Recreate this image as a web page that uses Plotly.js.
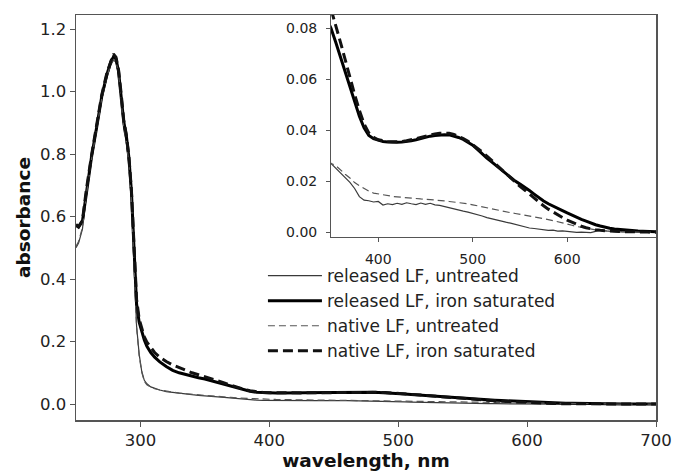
<!DOCTYPE html>
<html>
<head>
<meta charset="utf-8">
<script src="https://cdn.plot.ly/plotly-3.0.1.min.js"></script>
<style>
  html, body { margin: 0; padding: 0; background: #fff; }
  #chart { width: 673px; height: 473px; }
</style>
</head>
<body>
<div id="chart"></div>
<script>
// Wavelength grid (nm)
var wavelength = [250,252,255,258,262,266,270,274,277,279,281,283,285,287,289,291,293,295,297,299,301,303,305,308,311,315,320,325,330,335,340,345,350,
  355,360,365,370,375,380,385,390,395,400,405,410,415,420,425,430,435,440,445,450,455,460,465,470,475,480,485,490,495,500,
  505,510,515,520,525,530,535,540,545,550,555,560,565,570,575,580,585,590,595,600,605,610,615,620,625,630,635,640,645,650,
  655,660,665,670,675,680,685,690,695,700];

// released LF, untreated (thin solid)
var releasedUntreated = [0.500,0.515,0.560,0.665,0.780,0.875,0.975,1.045,1.085,1.100,1.095,1.055,0.980,0.880,0.840,0.770,0.650,0.440,0.250,0.160,0.105,0.076,0.065,0.055,0.050,0.045,0.040,0.037,0.034,0.032,0.030,0.028,0.027,
  0.0252,0.0232,0.0214,0.0196,0.0172,0.0140,0.0126,0.0124,0.0119,0.0121,0.0107,0.0112,0.0109,0.0114,0.0110,0.0116,0.0112,0.0109,0.0115,0.0110,0.0114,0.0108,0.0106,0.0101,0.0095,0.0091,0.0088,0.0083,0.0079,0.0075,
  0.0071,0.0064,0.0058,0.0053,0.0049,0.0045,0.0040,0.0036,0.0031,0.0027,0.0022,0.0017,0.0015,0.0012,0.0011,0.0008,0.0009,0.0005,0.0006,0.0003,0.0002,0.0000,0.0001,-0.0001,-0.0001,0.0004,0.0009,0.0006,0.0004,0.0003,
  0.0002,0.0003,0.0002,0.0001,0.0002,0.0001,0.0001,0.0000,0.0000,0.0000];

// released LF, iron saturated (thick solid)
var releasedIron = [0.572,0.566,0.585,0.680,0.790,0.885,0.985,1.055,1.095,1.110,1.105,1.065,0.990,0.905,0.860,0.790,0.680,0.480,0.320,0.262,0.230,0.205,0.185,0.165,0.150,0.135,0.120,0.108,0.100,0.094,0.088,0.084,0.080,
  0.0745,0.0685,0.0625,0.0565,0.0510,0.0455,0.0410,0.0380,0.0367,0.0360,0.0356,0.0354,0.0353,0.0353,0.0354,0.0356,0.0359,0.0363,0.0368,0.0373,0.0377,0.0380,0.0382,0.0383,0.0382,0.0378,0.0372,0.0364,0.0354,0.0342,
  0.0325,0.0307,0.0291,0.0276,0.0261,0.0246,0.0230,0.0215,0.0201,0.0189,0.0178,0.0164,0.0150,0.0136,0.0123,0.0112,0.0102,0.0094,0.0085,0.0076,0.0067,0.0059,0.0051,0.0044,0.0036,0.0030,0.0025,0.0020,0.0016,0.0013,
  0.0011,0.0009,0.0007,0.0006,0.0005,0.0004,0.0003,0.0002,0.0002,0.0001];

// native LF, untreated (thin dashed)
var nativeUntreated = [0.505,0.520,0.565,0.668,0.782,0.878,0.978,1.048,1.088,1.103,1.097,1.058,0.982,0.885,0.842,0.772,0.652,0.445,0.245,0.155,0.102,0.073,0.062,0.054,0.049,0.045,0.041,0.038,0.035,0.033,0.031,0.029,0.027,
  0.0262,0.0244,0.0228,0.0213,0.0195,0.0183,0.0172,0.0162,0.0154,0.0150,0.0147,0.0144,0.0141,0.0139,0.0137,0.0135,0.0134,0.0132,0.0131,0.0130,0.0129,0.0127,0.0125,0.0123,0.0121,0.0119,0.0117,0.0115,0.0112,0.0108,
  0.0104,0.0099,0.0094,0.0090,0.0087,0.0084,0.0081,0.0077,0.0074,0.0071,0.0068,0.0064,0.0061,0.0057,0.0054,0.0050,0.0046,0.0042,0.0037,0.0032,0.0028,0.0023,0.0019,0.0015,0.0012,0.0010,0.0008,0.0006,0.0005,0.0004,
  0.0003,0.0002,0.0002,0.0001,0.0001,0.0001,0.0000,0.0000,0.0000,0.0000];

// native LF, iron saturated (thick dashed)
var nativeIron = [0.575,0.568,0.588,0.685,0.795,0.890,0.990,1.060,1.100,1.120,1.110,1.070,0.995,0.910,0.862,0.795,0.685,0.490,0.335,0.272,0.240,0.215,0.198,0.180,0.165,0.150,0.136,0.125,0.116,0.107,0.100,0.094,0.088,
  0.0810,0.0745,0.0675,0.0605,0.0540,0.0478,0.0425,0.0390,0.0372,0.0363,0.0358,0.0356,0.0355,0.0355,0.0356,0.0359,0.0362,0.0367,0.0372,0.0377,0.0382,0.0386,0.0388,0.0389,0.0388,0.0384,0.0377,0.0368,0.0357,0.0344,
  0.0330,0.0315,0.0299,0.0282,0.0264,0.0246,0.0228,0.0211,0.0195,0.0180,0.0166,0.0150,0.0134,0.0118,0.0104,0.0091,0.0079,0.0068,0.0058,0.0048,0.0039,0.0031,0.0024,0.0018,0.0013,0.0010,0.0008,0.0006,0.0005,0.0004,
  0.0003,0.0003,0.0002,0.0002,0.0001,0.0001,0.0001,0.0000,0.0000,0.0000];

var seriesNames = ['released LF, untreated', 'released LF, iron saturated', 'native LF, untreated', 'native LF, iron saturated'];

var mainXTicks = [300, 400, 500, 600, 700];
var mainYTicks = [0.0, 0.2, 0.4, 0.6, 0.8, 1.0, 1.2];
var insetXTicks = [400, 500, 600];
var insetYTicks = [0.00, 0.02, 0.04, 0.06, 0.08];

var seriesData = [releasedUntreated, releasedIron, nativeUntreated, nativeIron];
var styles = [
  {color: '#3a3a3a', width: 1.2, dash: 'solid'},
  {color: '#000000', width: 3, dash: 'solid'},
  {color: '#555555', width: 1.2, dash: '7px,4px'},
  {color: '#111111', width: 3, dash: '10px,5px'}
];

var traces = [];
for (var i = 0; i < 4; i++) {
  traces.push({
    x: wavelength, y: seriesData[i], name: seriesNames[i],
    type: 'scatter', mode: 'lines', line: styles[i],
    xaxis: 'x', yaxis: 'y', showlegend: true, hoverinfo: 'skip'
  });
}
for (var j = 0; j < 4; j++) {
  traces.push({
    x: wavelength, y: seriesData[j], name: seriesNames[j],
    type: 'scatter', mode: 'lines', line: styles[j],
    xaxis: 'x2', yaxis: 'y2', showlegend: false, hoverinfo: 'skip'
  });
}

var axisLine = '#555555';
var font = {family: 'DejaVu Sans, Arial, sans-serif', size: 16.5, color: '#222222'};

var layout = {
  width: 673, height: 473,
  margin: {l: 76, r: 17, t: 15, b: 53, pad: 0},
  paper_bgcolor: '#ffffff', plot_bgcolor: 'rgba(0,0,0,0)',
  font: font,
  showlegend: true,
  legend: {
    x: 0.3223, y: 0.40, xanchor: 'left', yanchor: 'top',
    bgcolor: 'rgba(0,0,0,0)', borderwidth: 0,
    font: {family: 'DejaVu Sans, Arial, sans-serif', size: 17, color: '#222222'},
    itemwidth: 54, traceorder: 'normal'
  },
  xaxis: {
    domain: [0, 1], range: [250, 700], tickvals: mainXTicks,
    showgrid: false, zeroline: false,
    showline: true, linecolor: axisLine, linewidth: 1.5, mirror: true,
    ticks: 'outside', ticklen: 5, tickcolor: axisLine, tickwidth: 1,
    tickfont: {size: 16.5, color: '#222'},
    title: {text: 'wavelength, nm', font: {size: 18.5, weight: 'bold', color: '#111'}, standoff: 5}
  },
  yaxis: {
    domain: [0, 1], range: [-0.051, 1.245], tickvals: mainYTicks, tickformat: '.1f',
    showgrid: false, zeroline: false,
    showline: true, linecolor: axisLine, linewidth: 1.5, mirror: true,
    ticks: 'outside', ticklen: 5, tickcolor: axisLine, tickwidth: 1,
    tickfont: {size: 16.5, color: '#222'},
    title: {text: 'absorbance', font: {size: 18.5, weight: 'bold', color: '#111'}, standoff: 4}
  },
  xaxis2: {
    anchor: 'y2', domain: [0.4397, 1], range: [350, 694], tickvals: insetXTicks,
    showgrid: false, zeroline: false,
    showline: true, linecolor: axisLine, linewidth: 1, mirror: false,
    ticks: 'outside', ticklen: 4, tickcolor: axisLine, tickwidth: 1,
    ticklabelstandoff: 5,
    tickfont: {size: 14, color: '#222'}
  },
  yaxis2: {
    anchor: 'x2', domain: [0.452, 1], range: [-0.0018, 0.0852], tickvals: insetYTicks, tickformat: '.2f',
    showgrid: false, zeroline: false,
    showline: true, linecolor: axisLine, linewidth: 1, mirror: false,
    ticks: 'outside', ticklen: 4, tickcolor: axisLine, tickwidth: 1,
    ticklabelstandoff: 6,
    tickfont: {size: 14, color: '#222'}
  }
};

Plotly.newPlot('chart', traces, layout, {staticPlot: true, displayModeBar: false});
</script>
</body>
</html>
